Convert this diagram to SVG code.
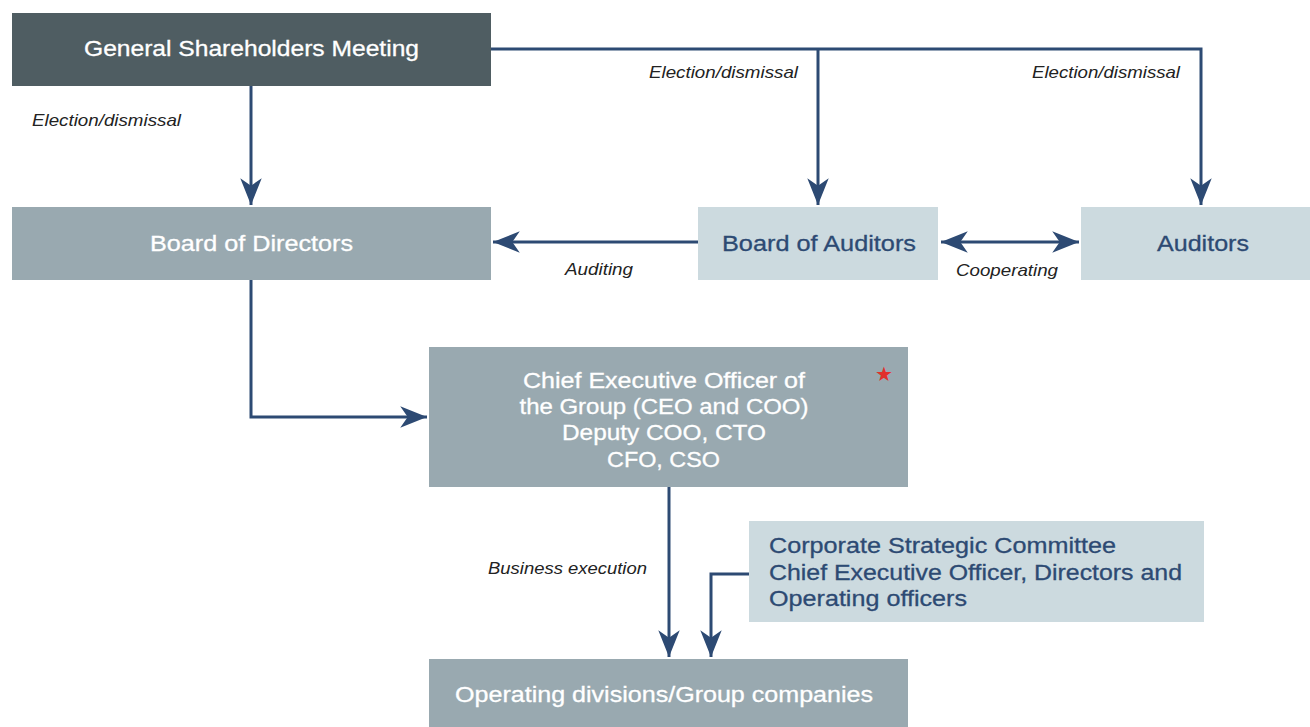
<svg xmlns="http://www.w3.org/2000/svg" width="1310" height="727" viewBox="0 0 1310 727">
<defs>
<style>
.dark{fill:#4f5d62}
.mid{fill:#99a9b0}
.light{fill:#ccdadf}
.tw{font-family:"Liberation Sans",Arial,sans-serif;font-size:22px;fill:#ffffff;stroke:#ffffff;stroke-width:0.3;text-anchor:middle}
.tn{font-family:"Liberation Sans",Arial,sans-serif;font-size:22px;fill:#2d4a73;stroke:#2d4a73;stroke-width:0.3;text-anchor:middle}
.tl{font-family:"Liberation Sans",Arial,sans-serif;font-size:22px;fill:#2d4a73;stroke:#2d4a73;stroke-width:0.3}
.lab{font-family:"Liberation Sans",Arial,sans-serif;font-size:17px;font-style:italic;fill:#222222}
.con{fill:none;stroke:#2d4a73;stroke-width:3}
</style>
<marker id="ah" markerUnits="userSpaceOnUse" markerWidth="30" markerHeight="24" viewBox="-26 -11 28 22" refX="0" refY="0" orient="auto-start-reverse">
<path d="M0,0 L-25,-10 L-18,0 L-25,10 Z" fill="#2d4a73"/>
</marker>
</defs>
<g id="connectors">
<path class="con" d="M251,86 V205" marker-end="url(#ah)"/>
<path class="con" d="M491,49 H1201 V205" marker-end="url(#ah)"/>
<path class="con" d="M818,49 V205" marker-end="url(#ah)"/>
<path class="con" d="M698,242 H493" marker-end="url(#ah)"/>
<path class="con" d="M941,242 H1079" marker-start="url(#ah)" marker-end="url(#ah)"/>
<path class="con" d="M251,280 V417 H427" marker-end="url(#ah)"/>
<path class="con" d="M669,487 V657" marker-end="url(#ah)"/>
<path class="con" d="M749,574 H711 V657" marker-end="url(#ah)"/>
<text class="lab" x="32" y="126" textLength="149" lengthAdjust="spacingAndGlyphs">Election/dismissal</text>
<text class="lab" x="649" y="78" textLength="149" lengthAdjust="spacingAndGlyphs">Election/dismissal</text>
<text class="lab" x="1032" y="78" textLength="148" lengthAdjust="spacingAndGlyphs">Election/dismissal</text>
<text class="lab" x="565" y="275" textLength="68" lengthAdjust="spacingAndGlyphs">Auditing</text>
<text class="lab" x="956" y="276" textLength="102" lengthAdjust="spacingAndGlyphs">Cooperating</text>
<text class="lab" x="488" y="574" textLength="159" lengthAdjust="spacingAndGlyphs">Business execution</text>
</g>
<g id="gsm">
<rect class="dark" x="12" y="13" width="479" height="73"/>
<text class="tw" x="251.5" y="56" textLength="335" lengthAdjust="spacingAndGlyphs">General Shareholders Meeting</text>
</g>
<g id="board-directors">
<rect class="mid" x="12" y="207" width="479" height="73"/>
<text class="tw" x="251.5" y="251" textLength="203" lengthAdjust="spacingAndGlyphs">Board of Directors</text>
</g>
<g id="board-auditors">
<rect class="light" x="698" y="207" width="240" height="73"/>
<text class="tn" x="819" y="251" textLength="194" lengthAdjust="spacingAndGlyphs">Board of Auditors</text>
</g>
<g id="auditors">
<rect class="light" x="1081" y="207" width="229" height="73"/>
<text class="tn" x="1203" y="251" textLength="92" lengthAdjust="spacingAndGlyphs">Auditors</text>
</g>
<g id="ceo">
<rect class="mid" x="429" y="347" width="479" height="140"/>
<text class="tw" x="664" y="388" textLength="282" lengthAdjust="spacingAndGlyphs">Chief Executive Officer of</text>
<text class="tw" x="664" y="414" textLength="289" lengthAdjust="spacingAndGlyphs">the Group (CEO and COO)</text>
<text class="tw" x="664" y="440" textLength="204" lengthAdjust="spacingAndGlyphs">Deputy COO, CTO</text>
<text class="tw" x="663.5" y="467" textLength="113" lengthAdjust="spacingAndGlyphs">CFO, CSO</text>
<text x="884" y="381" style="font-family:'DejaVu Sans',sans-serif;font-size:20px;fill:#e0302b;text-anchor:middle">★</text>
</g>
<g id="strategic-committee">
<rect class="light" x="749" y="521" width="455" height="101"/>
<text class="tl" x="769" y="553" textLength="347" lengthAdjust="spacingAndGlyphs">Corporate Strategic Committee</text>
<text class="tl" x="769" y="580" textLength="413" lengthAdjust="spacingAndGlyphs">Chief Executive Officer, Directors and</text>
<text class="tl" x="769" y="606" textLength="198" lengthAdjust="spacingAndGlyphs">Operating officers</text>
</g>
<g id="operating">
<rect class="mid" x="429" y="659" width="479" height="68"/>
<text class="tw" x="664" y="702" textLength="418" lengthAdjust="spacingAndGlyphs">Operating divisions/Group companies</text>
</g>
</svg>
